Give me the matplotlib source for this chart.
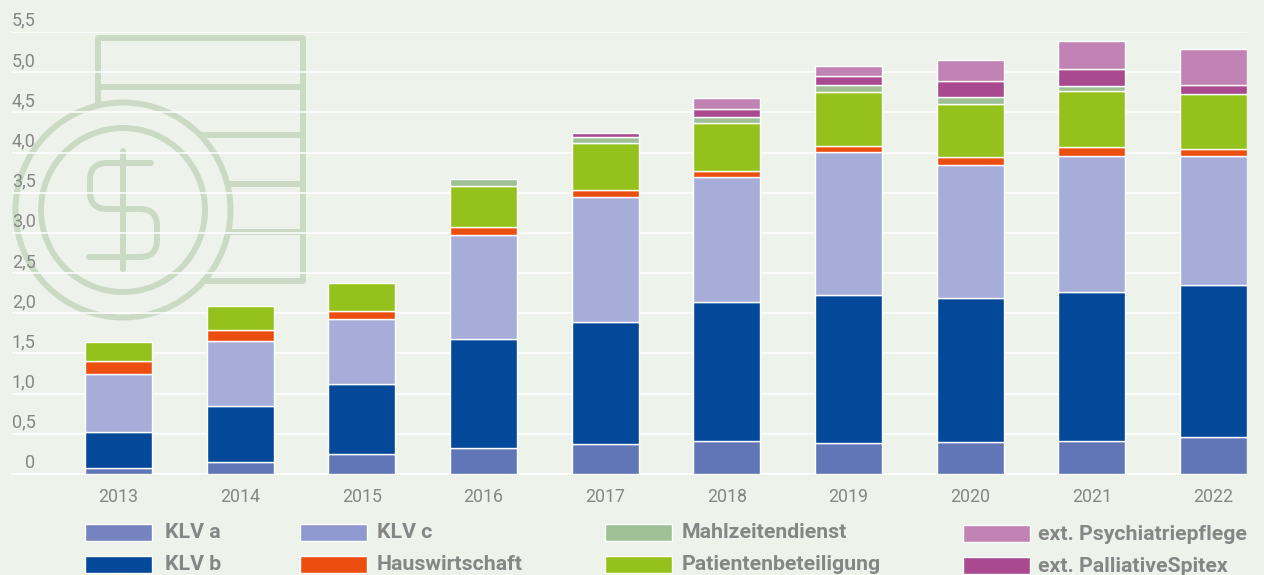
import matplotlib
matplotlib.use('Agg')
import matplotlib.pyplot as plt
from matplotlib.patches import Circle, PathPatch, Rectangle
from matplotlib.path import Path
from matplotlib.transforms import ScaledTranslation
import numpy as np

years = ['2013', '2014', '2015', '2016', '2017', '2018', '2019', '2020', '2021', '2022']

# values in stacking order
klv_a = [0.07, 0.155, 0.255, 0.325, 0.375, 0.415, 0.385, 0.40, 0.405, 0.465]
klv_b = [0.45, 0.685, 0.865, 1.355, 1.52, 1.72, 1.84, 1.785, 1.86, 1.885]
klv_c = [0.72, 0.81, 0.81, 1.295, 1.555, 1.555, 1.78, 1.655, 1.69, 1.605]
hauswirtschaft = [0.16, 0.137, 0.10, 0.10, 0.087, 0.075, 0.075, 0.11, 0.11, 0.087]
patienten = [0.24, 0.30, 0.35, 0.51, 0.585, 0.60, 0.67, 0.66, 0.70, 0.685]
mahlzeiten = [0, 0, 0, 0.087, 0.075, 0.075, 0.087, 0.075, 0.06, 0]
palliative = [0, 0, 0, 0, 0.05, 0.10, 0.11, 0.20, 0.21, 0.11]
psychiatrie = [0, 0, 0, 0, 0, 0.135, 0.125, 0.27, 0.35, 0.45]

series = [klv_a, klv_b, klv_c, hauswirtschaft, patienten, mahlzeiten, palliative, psychiatrie]
bar_colors = ['#6076b6', '#04489a', '#a6add8', '#ec4e0f', '#95c11c', '#9fc095', '#a94a90', '#c083b3']

y_ticks = [0, 0.5, 1, 1.5, 2, 2.5, 3, 3.5, 4, 4.5, 5, 5.5]
y_labels = ['0', '0,5', '1,0', '1,5', '2,0', '2,5', '3,0', '3,5', '4,0', '4,5', '5,0', '5,5']

legend_names = ['KLV a', 'KLV b', 'KLV c', 'Hauswirtschaft', 'Mahlzeitendienst',
                'Patientenbeteiligung', 'ext. Psychiatriepflege', 'ext. PalliativeSpitex']
legend_colors = ['#7583c0', '#04489a', '#8f99cf', '#ec4e0f', '#9fc095', '#95c11c', '#c083b3', '#a94a90']
legend_x = [85, 85, 300, 300, 605, 605, 963, 963]
legend_text_x = [165, 165, 377, 377, 682, 682, 1038, 1038]
legend_y = [524, 556, 524, 556, 524, 556, 525, 557]

BG = '#edf2eb'
ICON = '#cadac5'
TEXT = '#868686'
W, H = 1264, 575

plt.rcParams['font.family'] = ['Roboto', 'DejaVu Sans']

fig = plt.figure(figsize=(W / 100, H / 100), dpi=100, facecolor=BG)

# pixel canvas for the coin icon and the legend
bg = fig.add_axes([0, 0, 1, 1], zorder=0)
bg.set_xlim(0, W)
bg.set_ylim(H, 0)
bg.axis('off')

lw = 4.3
bg.add_patch(Circle((123, 210), 107.5, fill=False, ec=ICON, lw=lw))
bg.add_patch(Circle((123, 210), 82, fill=False, ec=ICON, lw=lw))
bg.plot([98, 98, 303, 303, 204], [102, 38, 38, 281, 281], color=ICON, lw=lw, solid_joinstyle='round')
bg.plot([98, 303], [87, 87], color=ICON, lw=lw)
bg.plot([203, 303], [135, 135], color=ICON, lw=lw)
bg.plot([230, 303], [184, 184], color=ICON, lw=lw)
bg.plot([232, 303], [232, 232], color=ICON, lw=lw)
bg.plot([123, 123], [151, 269], color=ICON, lw=lw, solid_capstyle='round')
dollar = Path(
    [(151, 163), (107, 163), (90, 163), (90, 180), (90, 192), (90, 209), (107, 209),
     (140, 209), (157, 209), (157, 226), (157, 240), (157, 257), (140, 257), (89, 257)],
    [Path.MOVETO, Path.LINETO, Path.CURVE3, Path.CURVE3, Path.LINETO, Path.CURVE3, Path.CURVE3,
     Path.LINETO, Path.CURVE3, Path.CURVE3, Path.LINETO, Path.CURVE3, Path.CURVE3, Path.LINETO])
bg.add_patch(PathPatch(dollar, fill=False, ec=ICON, lw=lw, capstyle='round'))

for name, color, sx, tx, sy in zip(legend_names, legend_colors, legend_x, legend_text_x, legend_y):
    bg.add_patch(Rectangle((sx, sy), 67, 17, fc=color, ec='white', lw=1))
    bg.text(tx, sy + 9, name, color=TEXT, fontsize=15.3, fontweight='bold', va='center', ha='left')

# the chart itself
ax = fig.add_axes([12 / W, (H - 474) / H, 1235 / W, 442 / H], zorder=1)
ax.patch.set_visible(False)

x = np.arange(len(years))
bottom = np.zeros(len(years))
for values, color in zip(series, bar_colors):
    values = np.array(values)
    ax.bar(x[values > 0], values[values > 0], width=0.55, bottom=bottom[values > 0],
           color=color, edgecolor='white', linewidth=1, zorder=3)
    bottom = bottom + values

ax.set_xlim(-0.875, 9.275)
ax.set_ylim(0, 5.5)
ax.set_xticks(x, years)
ax.set_yticks(y_ticks, y_labels)
ax.grid(axis='y', color='white', linewidth=1.1, zorder=1)
ax.set_axisbelow(True)
for spine in ax.spines.values():
    spine.set_visible(False)
ax.spines['bottom'].set_visible(True)
ax.spines['bottom'].set_color('white')
ax.spines['bottom'].set_linewidth(1.1)

ax.tick_params(axis='x', length=0, pad=10, labelsize=12.8, labelcolor=TEXT)
ax.tick_params(axis='y', length=0, pad=-17, labelsize=13, labelcolor=TEXT)
# y labels sit just above their gridline
shift = ScaledTranslation(0, 1.6 / 72, fig.dpi_scale_trans)
for label in ax.get_yticklabels():
    label.set_va('bottom')
    label.set_transform(label.get_transform() + shift)

fig.savefig('out.png', dpi=100, facecolor=BG)
